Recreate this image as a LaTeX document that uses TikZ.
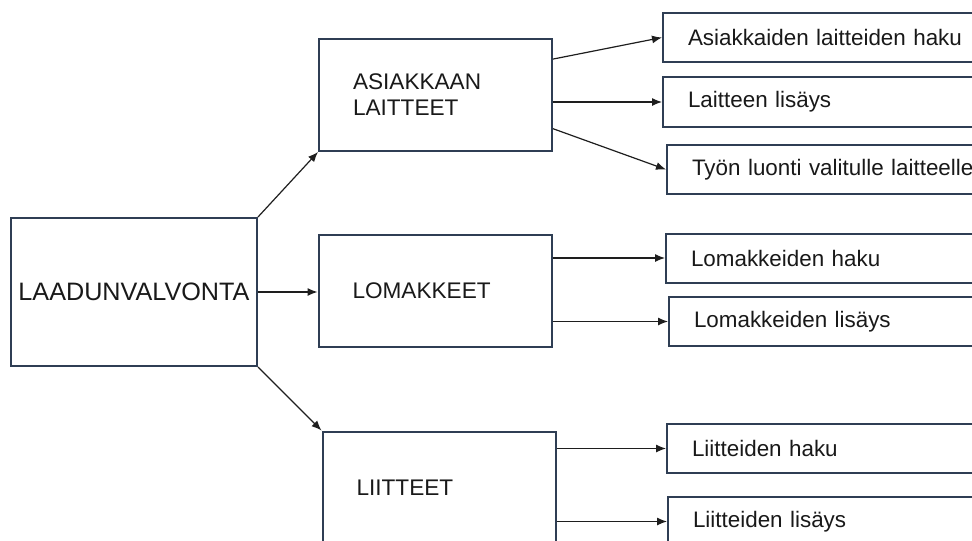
\documentclass[tikz,border=0pt]{standalone}
\usepackage{fontspec}
\setmainfont{Liberation Sans}
\usetikzlibrary{arrows.meta}
\definecolor{boxline}{RGB}{47,62,84}
\definecolor{arrowline}{RGB}{30,30,30}
\tikzset{
  mainbox/.style={draw=boxline, line width=1pt, fill=white, text=black!90,
    minimum height=56pt, text width=82.5pt, inner xsep=17pt, align=left,
    font=\fontsize{11.3}{13}\selectfont},
  subbox/.style={draw=boxline, line width=1pt, fill=white, text=black!90,
    anchor=west, minimum height=24.5pt, text width=150pt, inner xsep=12.5pt,
    align=left, font=\fontsize{11.2}{13}\selectfont},
  conn/.style={->, line width=0.6pt, draw=arrowline, >={Latex[length=5pt,width=4pt]}}
}

\begin{document}
\begin{tikzpicture}[x=0.5pt, y=-0.5pt]
\useasboundingbox (0,0) rectangle (972,540);
\clip (0,0) rectangle (972,540);
\node[mainbox, text width=120pt, inner xsep=1.5pt, minimum height=74pt, align=center,
  font=\fontsize{12.6}{14}\selectfont] (laad) at (134,292) {LAADUNVALVONTA};
\node[mainbox] (asiak) at (435.5,95) {ASIAKKAAN\\LAITTEET};
\node[mainbox] (lomak) at (435,290.5) {LOMAKKEET};
\node[mainbox] (liitt) at (439,487.5) {LIITTEET};
\node[subbox] (asHaku) at (662,37.5) {Asiakkaiden laitteiden haku};
\node[subbox] (asLisays) at (662,102) {Laitteen lisäys};
\node[subbox] (asTyo) at (666,169.5) {Työn luonti valitulle laitteelle};
\node[subbox] (loHaku) at (665,258) {Lomakkeiden haku};
\node[subbox] (loLisays) at (668,321.5) {Lomakkeiden lisäys};
\node[subbox] (liHaku) at (666,448.5) {Liitteiden haku};
\node[subbox] (liLisays) at (667,521.5) {Liitteiden lisäys};
% Arrows
\draw[conn] (laad.north east) -- (asiak.south west);
\draw[conn] (laad.east) -- (lomak.west |- laad.east);
\draw[conn] (laad.south east) -- (liitt.north west);
\draw[conn] (asiak.17) -- (asHaku.west);
\draw[conn] (asiak.east |- asLisays.west) -- (asLisays.west);
\draw[conn] (asiak.-16) -- (asTyo.west);
\draw[conn] (lomak.east |- loHaku.west) -- (loHaku.west);
\draw[conn] (lomak.east |- loLisays.west) -- (loLisays.west);
\draw[conn] (liitt.east |- liHaku.west) -- (liHaku.west);
\draw[conn] (liitt.east |- liLisays.west) -- (liLisays.west);
\end{tikzpicture}
\end{document}
